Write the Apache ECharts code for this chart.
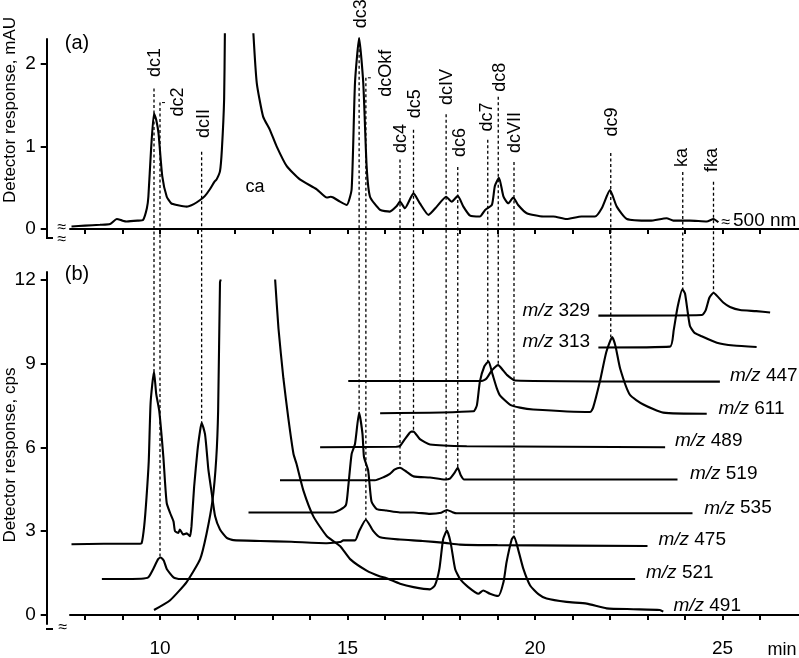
<!DOCTYPE html>
<html>
<head>
<meta charset="utf-8">
<title>Chromatograms</title>
<script src="https://cdn.jsdelivr.net/npm/echarts@6.0.0/dist/echarts.min.js"></script>
<style>
  html, body { margin: 0; padding: 0; background: #fff; }
  #chart { width: 799px; height: 658px; }
</style>
</head>
<body>
<div id="chart"></div>
<script>
// (a) detector trace at 500 nm, [min, mAU]; null = off scale (ca)
const uv500 = [[7.64,0.03],[8.0,0.04],[8.4,0.05],[8.67,0.06],[8.85,0.12],[9.0,0.1],[9.11,0.09],[9.4,0.1],[9.55,0.11],[9.65,0.25],[9.69,0.39],[9.76,0.95],[9.84,1.40],[9.9,1.32],[9.96,1.16],[10.06,0.64],[10.18,0.39],[10.3,0.31],[10.45,0.29],[10.71,0.27],[10.9,0.30],[11.07,0.35],[11.2,0.40],[11.33,0.48],[11.45,0.57],[11.51,0.60],[11.6,0.70],[11.65,0.96],[11.71,1.57],[11.73,2.37],[12.1,null],[12.49,2.37],[12.58,1.77],[12.75,1.36],[12.93,1.20],[13.11,1.0],[13.38,0.76],[13.73,0.60],[14.18,0.48],[14.45,0.38],[14.55,0.39],[14.62,0.38],[14.8,0.33],[14.98,0.29],[15.11,0.48],[15.2,1.77],[15.31,2.31],[15.42,1.77],[15.51,0.76],[15.6,0.39],[15.87,0.23],[16.13,0.21],[16.3,0.27],[16.4,0.33],[16.53,0.25],[16.76,0.43],[16.93,0.31],[17.16,0.17],[17.38,0.27],[17.63,0.39],[17.78,0.33],[17.94,0.40],[18.09,0.27],[18.27,0.16],[18.53,0.15],[18.67,0.23],[18.85,0.29],[18.93,0.52],[19.04,0.62],[19.16,0.39],[19.29,0.31],[19.42,0.38],[19.55,0.29],[19.78,0.19],[20.22,0.15],[20.49,0.15],[20.84,0.12],[21.24,0.15],[21.6,0.15],[21.78,0.25],[22.0,0.47],[22.18,0.27],[22.45,0.12],[23.07,0.10],[23.51,0.13],[23.69,0.10],[24.13,0.10],[24.58,0.09],[24.76,0.12],[24.89,0.08]]

// (b) ion traces, [min, cps] as plotted (stacked offsets included)
const mz329 = [[21.69,10.71],[24.45,10.73],[24.55,10.9],[24.65,11.35],[24.76,11.53],[24.88,11.38],[25.02,11.18],[25.2,11.02],[25.47,10.91],[25.9,10.87],[26.27,10.82]]
const mz313 = [[21.69,9.57],[23.6,9.6],[23.7,10.2],[23.8,11.0],[23.93,11.65],[24.0,11.5],[24.13,10.35],[24.25,10.1],[24.4,10.0],[24.85,9.74],[25.3,9.64],[25.91,9.59]]
const mz447 = [[15.02,8.37],[18.58,8.37],[18.7,8.45],[18.85,8.75],[19.02,8.94],[19.12,8.8],[19.25,8.59],[19.47,8.39],[24.93,8.35]]
const mz611 = [[15.87,7.22],[18.36,7.29],[18.45,7.5],[18.53,8.35],[18.65,8.9],[18.76,9.08],[18.87,8.6],[18.98,8.12],[19.07,7.85],[19.33,7.53],[19.6,7.42],[19.95,7.35],[21.47,7.26],[21.55,7.42],[21.73,8.35],[21.9,9.4],[22.06,9.94],[22.15,9.6],[22.27,8.82],[22.53,7.88],[22.89,7.53],[23.42,7.24],[24.58,7.2]]
const mz489 = [[14.27,6.0],[16.3,6.02],[16.4,6.05],[16.53,6.29],[16.7,6.56],[16.76,6.56],[16.93,6.29],[17.2,6.1],[18.18,6.04],[23.47,6.0]]
const mz519 = [[13.2,4.82],[15.73,4.82],[15.96,4.93],[16.13,5.05],[16.25,5.2],[16.4,5.27],[16.58,5.12],[16.76,4.96],[17.2,4.92],[17.6,4.85],[17.73,4.88],[17.87,5.12],[17.94,5.27],[18.02,5.0],[18.11,4.85],[23.8,4.85]]
const mz535 = [[12.36,3.67],[14.62,3.67],[14.8,3.76],[14.96,3.94],[15.02,4.59],[15.11,5.76],[15.2,6.12],[15.31,7.24],[15.4,6.47],[15.44,5.65],[15.55,5.18],[15.64,4.06],[15.78,3.79],[16.04,3.74],[16.4,3.67],[16.76,3.67],[17.2,3.62],[17.5,3.66],[17.65,3.76],[17.8,3.68],[17.91,3.64],[24.2,3.64]]
const mz475 = [[7.64,2.53],[8.5,2.55],[9.42,2.55],[9.51,2.57],[9.58,3.2],[9.64,4.2],[9.7,5.5],[9.75,7.6],[9.84,8.71],[9.9,7.9],[9.98,7.3],[10.09,5.65],[10.13,4.83],[10.18,4.0],[10.27,3.65],[10.36,3.35],[10.4,3.0],[10.49,2.94],[10.53,3.06],[10.62,2.88],[10.71,2.92],[10.8,2.82],[10.84,3.18],[10.91,4.59],[11.0,5.89],[11.07,6.6],[11.11,6.88],[11.2,6.47],[11.26,5.65],[11.29,5.2],[11.38,4.35],[11.47,3.53],[11.6,3.06],[11.78,2.76],[11.96,2.68],[12.67,2.65],[13.5,2.62],[14.45,2.57],[14.8,2.61],[14.89,2.67],[15.2,2.67],[15.31,3.0],[15.49,3.41],[15.69,3.0],[15.87,2.78],[16.4,2.7],[17.0,2.65],[17.6,2.58],[18.0,2.52],[19.0,2.5],[23.0,2.47]]
const mz521 = [[8.45,1.29],[9.5,1.3],[9.69,1.35],[9.82,1.65],[9.95,2.0],[10.02,2.06],[10.1,1.95],[10.18,1.65],[10.36,1.35],[10.53,1.29],[15.0,1.29],[22.67,1.29]]
const mz491 = [[9.84,0.18],[10.27,0.53],[10.71,1.18],[11.07,2.0],[11.24,2.9],[11.4,4.1],[11.5,5.6],[11.55,7.3],[11.6,11.9],[11.62,12.0],[12.3,null],[13.07,12.0],[13.16,10.24],[13.29,8.47],[13.42,7.06],[13.56,5.76],[13.64,5.41],[13.82,4.47],[14.09,3.53],[14.45,2.82],[14.8,2.47],[15.07,2.0],[15.51,1.59],[15.87,1.38],[16.04,1.32],[16.4,1.12],[16.76,1.0],[17.2,0.92],[17.33,1.06],[17.45,1.65],[17.55,2.71],[17.65,3.02],[17.75,2.59],[17.87,1.65],[18.0,1.29],[18.22,1.0],[18.49,0.76],[18.62,0.88],[18.8,0.76],[19.02,0.68],[19.16,1.18],[19.24,1.88],[19.38,2.71],[19.44,2.82],[19.55,2.35],[19.69,1.65],[19.87,1.06],[20.09,0.75],[20.31,0.59],[20.84,0.47],[21.38,0.41],[21.91,0.24],[22.62,0.21],[23.33,0.18],[23.42,0.12]]

const ionTraces = [mz329, mz313, mz447, mz611, mz489, mz519, mz535, mz475, mz521, mz491]
const ionNames = ['329', '313', '447', '611', '489', '519', '535', '475', '521', '491']
// where each m/z label sits [min, cps], and which side of that point
const ionLabelAt = [[21.47,10.9],[21.47,9.77],[25.2,8.57],[24.89,7.38],[23.73,6.24],[24.13,5.06],[24.51,3.82],[23.29,2.68],[22.96,1.51],[23.69,0.33]]
const ionLabelAlign = ['right','right','left','left','left','left','left','left','left','left']

// peak assignments: retention time, start of dotted line in (a) [mAU], end in (b) [cps]
const peakNames = ['dc1','dc2','dcII','dc3','dcOkf','dc4','dc5','dcIV','dc6','dc7','dc8','dcVII','dc9','ka','fka']
const peakTimes = [9.84,10.0,11.11,15.31,15.49,16.4,16.76,17.63,17.94,18.74,19.02,19.44,22.02,23.94,24.76]
const peakTopA = [1.70,1.53,0.935,2.31,1.83,0.84,1.2,1.39,0.75,1.08,1.6,0.81,0.92,0.69,0.57]
const peakEndB = [8.71,2.06,6.88,7.24,3.41,5.27,6.56,3.02,5.27,9.08,8.94,2.82,9.94,11.65,11.53]
// bottom end of each rotated peak label [min, mAU]
const peakLabelAt = [[9.87,1.84],[10.48,1.36],[11.17,1.10],[15.36,2.43],[16.03,1.60],[16.43,0.92],[16.8,1.34],[17.65,1.50],[18.0,0.87],[18.72,1.18],[19.07,1.66],[19.47,0.92],[22.05,1.12],[23.92,0.75],[24.72,0.69]]
const leaderPeaks = ['dc2', 'dcOkf']

const xTicks = [8,9,10,11,12,13,14,15,16,17,18,19,20,21,22,23,24,25,26]
const xLabels = [10,15,20,25]
const yTicksA = [0,1,2]
const yTicksB = [0,3,6,9,12]

const FONT = '"Liberation Sans", Arial, Helvetica, sans-serif'
const INK = '#000'

function xAxisOf (grid, withLabels) {
  return {
    type: 'value',
    gridIndex: grid,
    min: 7.6,
    max: 27.04,
    axisLine: { lineStyle: { color: INK, width: 2 } },
    axisTick: { show: true, customValues: xTicks, length: 5, lineStyle: { color: INK, width: 2 } },
    axisLabel: {
      show: withLabels,
      customValues: xLabels,
      margin: 15,
      fontSize: 19,
      fontFamily: FONT,
      color: INK
    },
    splitLine: { show: false }
  }
}

function yAxisOf (grid, min, max, ticks) {
  return {
    type: 'value',
    gridIndex: grid,
    min: min,
    max: max,
    offset: 23.3,
    axisLine: { show: true, lineStyle: { color: INK, width: 2 } },
    axisTick: { show: true, customValues: ticks, length: 6, lineStyle: { color: INK, width: 2 } },
    axisLabel: { customValues: ticks, margin: 11, fontSize: 19, fontFamily: FONT, color: INK },
    splitLine: { show: false }
  }
}

function trace (data, grid) {
  return {
    type: 'line',
    xAxisIndex: grid,
    yAxisIndex: grid,
    data: data,
    showSymbol: false,
    symbol: 'none',
    clip: false,
    connectNulls: false,
    smooth: 0.18,
    silent: true,
    lineStyle: { color: INK, width: 2.1 }
  }
}

const series = [trace(uv500, 0)]
ionTraces.forEach(function (d) { series.push(trace(d, 1)) })

const option = {
  animation: false,
  backgroundColor: '#fff',
  textStyle: { fontFamily: FONT },
  grid: [
    { left: 70, top: 39, width: 729, height: 199 },
    { left: 70, top: 272, width: 729, height: 357 }
  ],
  xAxis: [xAxisOf(0, false), xAxisOf(1, true)],
  yAxis: [yAxisOf(0, -0.11, 2.30, yTicksA), yAxisOf(1, -0.32, 12.27, yTicksB)],
  series: series
}

const chart = echarts.init(document.getElementById('chart'))
chart.setOption(option)

// annotations that need pixel positions from the axes
const pa = function (p) { return chart.convertToPixel({ xAxisIndex: 0, yAxisIndex: 0 }, p) }
const pb = function (p) { return chart.convertToPixel({ xAxisIndex: 1, yAxisIndex: 1 }, p) }
const txt = function (x, y, text, extra) {
  return {
    type: 'text',
    x: x,
    y: y,
    silent: true,
    style: Object.assign({ text: text, fill: INK, fontSize: 18, fontFamily: FONT, align: 'center', verticalAlign: 'middle' }, extra || {})
  }
}

const graphics = []
peakNames.forEach(function (name, i) {
  const top = pa([peakTimes[i], peakTopA[i]])
  const end = pb([peakTimes[i], peakEndB[i]])
  graphics.push({
    type: 'line',
    silent: true,
    shape: { x1: top[0], y1: top[1], x2: end[0], y2: end[1] },
    style: { stroke: INK, lineWidth: 1.3, lineDash: [3, 2.5] }
  })
  if (leaderPeaks.indexOf(name) >= 0) {
    graphics.push({
      type: 'line',
      silent: true,
      shape: { x1: top[0] + 2, y1: top[1], x2: top[0] + 5, y2: top[1] },
      style: { stroke: INK, lineWidth: 1 }
    })
  }
  const at = pa(peakLabelAt[i])
  const t = txt(at[0], at[1], name, { align: 'left' })
  t.rotation = Math.PI / 2
  graphics.push(t)
})

ionNames.forEach(function (n, i) {
  const at = pb(ionLabelAt[i])
  graphics.push(txt(at[0], at[1], '{i|m/z} ' + n, {
    align: ionLabelAlign[i],
    fontSize: 19,
    rich: { i: { fontStyle: 'italic', fontSize: 19, fontFamily: FONT } }
  }))
})

// axis names, panel tags and other text
const nameA = txt(10, 110, 'Detector response, mAU', { fontSize: 17 })
nameA.rotation = Math.PI / 2
const nameB = txt(10, 455, 'Detector response, cps', { fontSize: 17 })
nameB.rotation = Math.PI / 2
graphics.push(nameA, nameB)
graphics.push(txt(77, 43, '(a)', { fontSize: 20 }))
graphics.push(txt(77, 274, '(b)', { fontSize: 20 }))
graphics.push(txt(255, 187, 'ca', { fontSize: 18 }))
graphics.push(txt(733, 221, '500 nm', { align: 'left', fontSize: 19 }))
graphics.push(txt(726, 223, '\u2248', { fontSize: 16 }))
graphics.push(txt(782, 650, 'min', { fontSize: 18 }))

// axis-break marks and the little foot at the base of each y axis
;[[62, 228], [62, 240], [63, 628]].forEach(function (p) {
  graphics.push(txt(p[0], p[1], '\u2248', { fontSize: 16 }))
})
;[238, 629].forEach(function (y) {
  graphics.push({
    type: 'line',
    silent: true,
    shape: { x1: 46, y1: y, x2: 53, y2: y },
    style: { stroke: INK, lineWidth: 2 }
  })
})

chart.setOption({ graphic: { elements: graphics } })
</script>
</body>
</html>
